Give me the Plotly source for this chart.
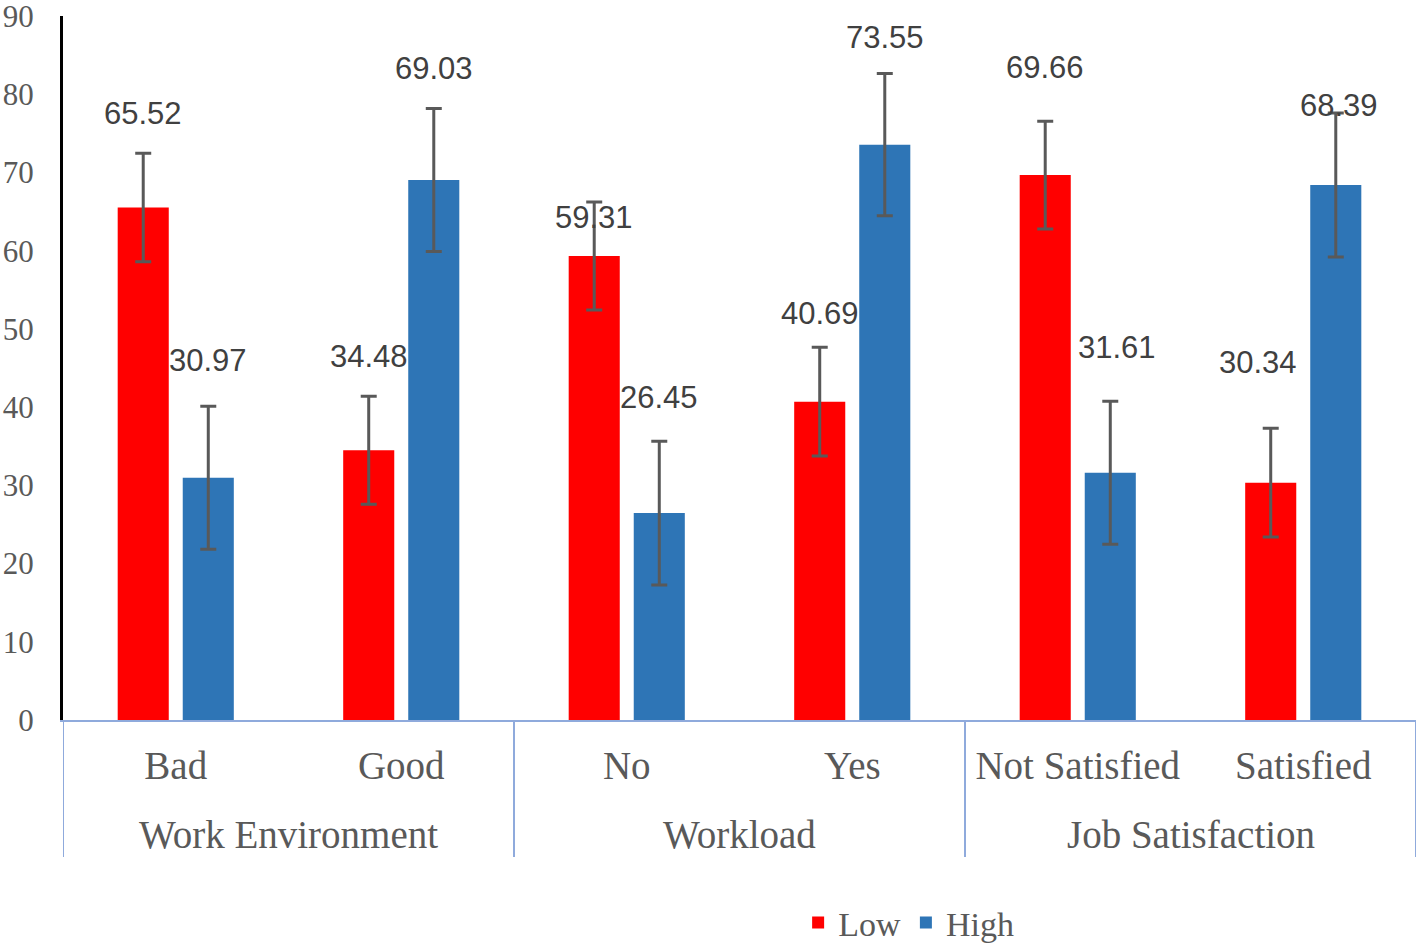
import plotly.graph_objects as go

groups = ["Work Environment", "Workload", "Job Satisfaction"]
categories = ["Bad", "Good", "No", "Yes", "Not Satisfied", "Satisfied"]
low_values = [65.52, 34.48, 59.31, 40.69, 69.66, 30.34]
high_values = [30.97, 69.03, 26.45, 73.55, 31.61, 68.39]
low_errors = [6.95, 6.9, 6.9, 6.95, 6.9, 6.95]
high_errors = [9.15, 9.15, 9.2, 9.1, 9.15, 9.2]
y_ticks = [0, 10, 20, 30, 40, 50, 60, 70, 80, 90]

# label placement (style): gap above error-bar top in axis units, and x shift in px
low_label_gap = [5.1, 5.1, -2.0, 4.3, 6.8, 8.4]
high_label_gap = [5.9, 5.1, 5.6, 4.6, 6.9, 1.0]
low_label_dx = [0, 0, 0, 0, 0, -13]
high_label_dx = [0, 0, 0, 0, 7, 3]

RED = "#FF0000"
BLUE = "#2E75B6"
ERR = "#595959"
AXIS_BLUE = "#8FAADC"
TXT = "#595959"

BARGAP = 0.423
BARGROUPGAP = 0.215
slot = (1 - BARGAP) / 2
cats_per_group = 2

W, H = 1424, 948
ML, MR, MT, MB = 63, 8, 16, 228
PLOT_H = H - MT - MB

fig = go.Figure()
fig.add_trace(go.Bar(
    name="Low", x=categories, y=low_values,
    marker=dict(color=RED, line=dict(width=0)),
    error_y=dict(type="data", array=low_errors, visible=True,
                 color=ERR, thickness=3, width=8),
))
fig.add_trace(go.Bar(
    name="High", x=categories, y=high_values,
    marker=dict(color=BLUE, line=dict(width=0)),
    error_y=dict(type="data", array=high_errors, visible=True,
                 color=ERR, thickness=3, width=8),
))

annotations = []
for i in range(len(categories)):
    for vals, errs, gaps, dxs, off in [
        (low_values, low_errors, low_label_gap, low_label_dx, -slot / 2),
        (high_values, high_errors, high_label_gap, high_label_dx, slot / 2),
    ]:
        annotations.append(dict(
            x=i + off, y=vals[i] + errs[i] + gaps[i], xref="x", yref="y",
            text=f"{vals[i]:.2f}", showarrow=False, xshift=dxs[i],
            font=dict(family="Liberation Sans", size=31, color="#404040"),
            xanchor="center", yanchor="middle",
        ))

# group labels and dividers of the two-level category axis
shapes = []
for g, name in enumerate(groups):
    center = g * cats_per_group + (cats_per_group - 1) / 2
    annotations.append(dict(
        x=center, y=-114 / PLOT_H, xref="x", yref="paper", text=name,
        showarrow=False, xanchor="center", yanchor="middle",
        font=dict(family="Liberation Serif", size=39, color=TXT),
    ))
for k in range(len(groups) + 1):
    xb = k * cats_per_group - 0.5
    shapes.append(dict(
        type="line", xref="x", yref="paper", x0=xb, x1=xb, y0=0,
        y1=-137 / PLOT_H, line=dict(color=AXIS_BLUE, width=2),
    ))

fig.update_layout(
    width=W, height=H,
    margin=dict(l=ML, r=MR, t=MT, b=MB, autoexpand=False),
    paper_bgcolor="white", plot_bgcolor="white",
    barmode="group", bargap=BARGAP, bargroupgap=BARGROUPGAP,
    showlegend=True,
    legend=dict(orientation="h", x=0.625, xanchor="center", y=-203 / PLOT_H,
                yanchor="middle",
                font=dict(family="Liberation Serif", size=34, color=TXT),
                tracegroupgap=0),
    annotations=annotations,
    shapes=shapes,
    font=dict(family="Liberation Serif", color=TXT),
)
fig.update_yaxes(
    range=[0, 90.001], tickvals=y_ticks, showgrid=False, zeroline=False,
    showline=True, linecolor="black", linewidth=3, automargin=False,
    ticks="", ticklabelstandoff=20, ticklabeloverflow="allow",
    tickfont=dict(family="Liberation Serif", size=31, color=TXT),
)
fig.update_xaxes(
    type="category", showgrid=False, showline=True, automargin=False,
    range=[-0.5, len(categories) - 0.5],
    linecolor=AXIS_BLUE, linewidth=2, ticks="", ticklabelstandoff=10,
    tickfont=dict(family="Liberation Serif", size=39, color=TXT),
)

# remove the default 8px page margin so the figure fills the window exactly
fig.write_html("out.html", config={"displayModeBar": False},
               post_script="document.body.style.margin='0';")
